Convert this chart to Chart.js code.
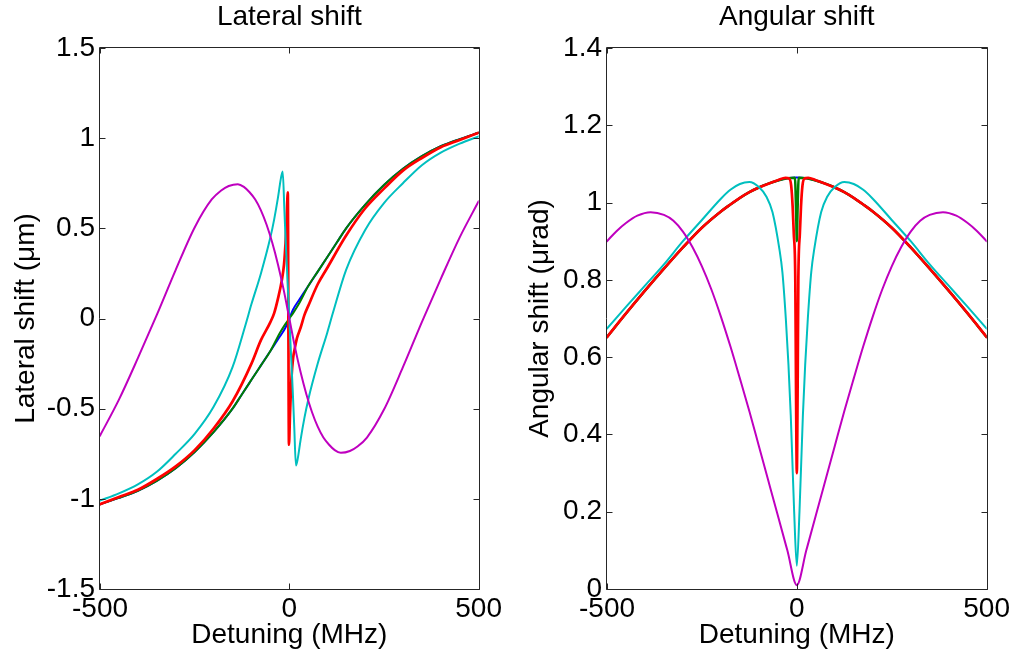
<!DOCTYPE html>
<html><head><meta charset="utf-8">
<script src="https://cdn.jsdelivr.net/npm/chart.js@4.4.1/dist/chart.umd.min.js"></script>
<style>
html,body{margin:0;padding:0;background:#fff;}
#wrap{position:relative;width:1016px;height:657px;overflow:hidden;background:#fff;}
canvas{position:absolute;top:0;}
#c1{left:0;} #c2{left:508px;}
</style></head><body>
<div id="wrap"><canvas id="c1" width="508" height="657"></canvas><canvas id="c2" width="508" height="657"></canvas></div>
<script>
// ---------- tick labels ----------
const xTicks = [-500, 0, 500];
const latYTicks = [-1.5, -1, -0.5, 0, 0.5, 1, 1.5];
const angYTicks = [0, 0.2, 0.4, 0.6, 0.8, 1, 1.2, 1.4];

// ---------- Lateral shift (left panel) ----------
const latBlueX = [-500,-450,-400,-350,-300,-250,-200,-150,-125,-100,-75,-50,-25,-10,0,10,25,50,75,100,125,150,200,250,300,350,400,450,500];
const latBlueY = [-1.03,-0.995,-0.955,-0.90,-0.83,-0.74,-0.63,-0.50,-0.42,-0.34,-0.26,-0.18,-0.10,-0.05,0,0.05,0.10,0.18,0.26,0.34,0.42,0.50,0.63,0.74,0.83,0.90,0.955,0.995,1.03];

const latGreenX = [-500,-450,-400,-350,-300,-250,-200,-150,-125,-100,-75,-50,-25,-10,0,10,25,50,75,100,125,150,200,250,300,350,400,450,500];
const latGreenY = [-1.03,-0.995,-0.955,-0.90,-0.83,-0.74,-0.63,-0.50,-0.42,-0.34,-0.26,-0.18,-0.08,-0.03,0,0.03,0.08,0.18,0.26,0.34,0.42,0.50,0.63,0.74,0.83,0.90,0.955,0.995,1.03];

const latRedX = [-500,-450,-400,-350,-300,-250,-200,-150,-100,-75,-50,-40,-30,-20,-14,-10,-7,-4,-1,2,6,10,14,20,30,40,50,75,100,150,200,250,300,350,400,450,500];
const latRedY = [-1.03,-0.99,-0.95,-0.89,-0.82,-0.73,-0.61,-0.46,-0.25,-0.12,-0.02,0.03,0.11,0.21,0.30,0.42,0.55,0.70,-0.70,-0.52,-0.32,-0.22,-0.17,-0.11,-0.05,0.02,0.07,0.19,0.28,0.46,0.61,0.72,0.82,0.89,0.95,0.99,1.03];

const latCyanX = [-500,-450,-400,-350,-300,-250,-200,-150,-115,-100,-75,-50,-40,-30,-22,-17.5,-13,-9,-4.5,0,4.5,9,13,17.5,22,30,40,50,75,100,115,150,200,250,300,350,400,450,500];
const latCyanY = [-1.01,-0.97,-0.92,-0.85,-0.75,-0.64,-0.49,-0.27,-0.03,0.08,0.25,0.45,0.55,0.67,0.78,0.815,0.60,0.40,0.20,0,-0.20,-0.40,-0.60,-0.815,-0.78,-0.67,-0.55,-0.45,-0.25,-0.08,0.03,0.27,0.49,0.64,0.75,0.85,0.92,0.97,1.01];

const latMagX = [-500,-450,-400,-350,-300,-250,-205,-180,-160,-136,-120,-105,-90,-75,-60,-45,-30,-15,0,15,30,45,60,75,90,105,120,136,160,180,205,250,300,350,400,450,500];
const latMagY = [-0.65,-0.45,-0.22,0.02,0.27,0.505,0.66,0.71,0.735,0.745,0.73,0.70,0.66,0.60,0.52,0.42,0.30,0.16,0,-0.16,-0.30,-0.42,-0.52,-0.60,-0.66,-0.70,-0.73,-0.745,-0.735,-0.71,-0.66,-0.505,-0.27,-0.02,0.22,0.45,0.65];

// ---------- Angular shift (right panel) ----------
const angBlueX = [-500,-450,-400,-350,-300,-250,-200,-175,-150,-125,-100,-75,-50,-25,0,25,50,75,100,125,150,175,200,250,300,350,400,450,500];
const angBlueY = [0.652,0.713,0.772,0.829,0.884,0.935,0.977,0.995,1.012,1.027,1.039,1.049,1.057,1.063,1.065,1.063,1.057,1.049,1.039,1.027,1.012,0.995,0.977,0.935,0.884,0.829,0.772,0.713,0.652];

const angGreenX = [-500,-450,-400,-350,-300,-250,-200,-175,-150,-125,-100,-75,-50,-25,-5,-2,0,2,5,25,50,75,100,125,150,175,200,250,300,350,400,450,500];
const angGreenY = [0.652,0.713,0.772,0.829,0.884,0.935,0.977,0.995,1.012,1.027,1.039,1.049,1.057,1.063,1.064,0.98,0.90,0.98,1.064,1.063,1.057,1.049,1.039,1.027,1.012,0.995,0.977,0.935,0.884,0.829,0.772,0.713,0.652];

const angRedX = [-500,-450,-400,-350,-300,-250,-200,-175,-150,-125,-100,-75,-50,-30,-20,-15,-11,-8,-4,-2,0,2,4,8,11,15,20,30,50,75,100,125,150,175,200,250,300,350,400,450,500];
const angRedY = [0.652,0.713,0.772,0.829,0.884,0.935,0.977,0.995,1.012,1.027,1.039,1.049,1.058,1.064,1.062,1.045,0.99,0.92,0.80,0.50,0.30,0.50,0.80,0.92,0.99,1.045,1.062,1.064,1.058,1.049,1.039,1.027,1.012,0.995,0.977,0.935,0.884,0.829,0.772,0.713,0.652];

const angCyanX = [-500,-450,-400,-350,-300,-250,-200,-175,-150,-125,-100,-80,-64,-46,-38,-29,-22,-16,-7,0,7,16,22,29,38,46,64,80,100,125,150,175,200,250,300,350,400,450,500];
const angCyanY = [0.674,0.73,0.785,0.84,0.90,0.955,1.01,1.033,1.048,1.053,1.04,1.015,0.975,0.88,0.82,0.70,0.58,0.45,0.20,0.06,0.20,0.45,0.58,0.70,0.82,0.88,0.975,1.015,1.04,1.053,1.048,1.033,1.01,0.955,0.90,0.84,0.785,0.73,0.674];

const angMagX = [-500,-475,-450,-420,-385,-350,-325,-300,-275,-250,-225,-200,-175,-150,-125,-100,-75,-50,-25,0,25,50,75,100,125,150,175,200,225,250,275,300,325,350,385,420,450,475,500];
const angMagY = [0.90,0.926,0.947,0.966,0.975,0.968,0.953,0.925,0.885,0.835,0.775,0.705,0.628,0.545,0.46,0.37,0.28,0.19,0.10,0.01,0.10,0.19,0.28,0.37,0.46,0.545,0.628,0.705,0.775,0.835,0.885,0.925,0.953,0.968,0.975,0.966,0.947,0.926,0.90];

// ---------- styling ----------
const FONT = "'Liberation Sans', Arial, Helvetica, sans-serif";
const FS = 28;
const AXIS_COLOR = '#262626';
const COLORS = {blue:'#0000FF', green:'#008000', red:'#FF0000', cyan:'#00BFBF', magenta:'#BF00BF'};

function pts(xs, ys){ return xs.map((x,i)=>({x:x, y:ys[i]})); }
function ds(xs, ys, color, width, order){
  return {data: pts(xs, ys), borderColor: color, borderWidth: width, pointRadius: 0,
    cubicInterpolationMode: 'monotone', borderJoinStyle: 'round', borderCapStyle: 'round', fill: false, order: order};
}

const boxTicks = {
  id: 'boxTicks',
  afterDatasetsDraw(chart){
    const {ctx, chartArea: a, scales} = chart;
    const L = 6;
    ctx.save();
    ctx.strokeStyle = AXIS_COLOR;
    ctx.lineWidth = 1;
    ctx.beginPath();
    const l = Math.round(a.left) - 0.5, r = Math.round(a.right) + 0.5;
    const t = Math.round(a.top) - 0.5, b = Math.round(a.bottom) + 0.5;
    ctx.rect(l, t, r - l, b - t);
    scales.x.ticks.forEach(tk => {
      const px = Math.round(scales.x.getPixelForValue(tk.value)) + 0.5;
      ctx.moveTo(px, b); ctx.lineTo(px, b - L);
      ctx.moveTo(px, t); ctx.lineTo(px, t + L);
    });
    scales.y.ticks.forEach(tk => {
      const py = Math.round(scales.y.getPixelForValue(tk.value)) + 0.5;
      ctx.moveTo(l, py); ctx.lineTo(l + L, py);
      ctx.moveTo(r, py); ctx.lineTo(r - L, py);
    });
    ctx.stroke();
    ctx.restore();
  }
};

function makeChart(id, cfg){
  return new Chart(document.getElementById(id), {
    type: 'line',
    data: {datasets: cfg.datasets},
    options: {
      responsive: false, animation: false, events: [],
      layout: {padding: {left: 0, right: cfg.padRight, top: 0, bottom: 0}},
      plugins: {
        legend: {display: false}, tooltip: {enabled: false},
        title: {display: true, text: cfg.title, fullSize: false, color: '#000',
          font: {family: FONT, size: FS, weight: 'normal', lineHeight: 1.2},
          padding: {top: 0.5, bottom: 13.9}}
      },
      scales: {
        x: {type: 'linear', min: -500, max: 500,
          afterBuildTicks: s => { s.ticks = xTicks.map(v => ({value: v})); },
          afterFit: s => { s.height = 68; },
          grid: {display: false, drawTicks: false}, border: {display: false},
          ticks: {color: '#000', padding: 6, maxRotation: 0, autoSkip: false,
            callback: v => String(v),
            font: {family: FONT, size: FS, lineHeight: 1}},
          title: {display: true, text: 'Detuning (MHz)', color: '#000',
            font: {family: FONT, size: FS, lineHeight: 1.2}, padding: {top: 0, bottom: 5}}
        },
        y: {type: 'linear', min: cfg.yMin, max: cfg.yMax,
          afterBuildTicks: s => { s.ticks = cfg.yTicks.map(v => ({value: v})); },
          afterFit: s => { s.width = cfg.yWidth; },
          grid: {display: false, drawTicks: false}, border: {display: false},
          ticks: {color: '#000', padding: 5, autoSkip: false,
            callback: v => String(v),
            font: {family: FONT, size: FS, lineHeight: 1}},
          title: {display: true, text: cfg.yTitle, color: '#000',
            font: {family: FONT, size: FS, lineHeight: 1.2}, padding: {top: cfg.yTitlePad, bottom: 0}}
        }
      }
    },
    plugins: [boxTicks]
  });
}

makeChart('c1', {
  title: 'Lateral shift', yTitle: 'Lateral shift (μm)', yMin: -1.5, yMax: 1.5, yTicks: latYTicks,
  yWidth: 100, padRight: 27, yTitlePad: 9,
  datasets: [
    ds(latBlueX, latBlueY, COLORS.blue, 2, 5),
    ds(latGreenX, latGreenY, COLORS.green, 2, 4),
    ds(latRedX, latRedY, COLORS.red, 2.7, 3),
    ds(latCyanX, latCyanY, COLORS.cyan, 2, 2),
    ds(latMagX, latMagY, COLORS.magenta, 2, 1)
  ]
});

makeChart('c2', {
  title: 'Angular shift', yTitle: 'Angular shift (μrad)', yMin: 0, yMax: 1.4, yTicks: angYTicks,
  yWidth: 99, padRight: 28, yTitlePad: 15,
  datasets: [
    ds(angBlueX, angBlueY, COLORS.blue, 2, 5),
    ds(angGreenX, angGreenY, COLORS.green, 2.5, 4),
    ds(angRedX, angRedY, COLORS.red, 2.7, 3),
    ds(angCyanX, angCyanY, COLORS.cyan, 2, 2),
    ds(angMagX, angMagY, COLORS.magenta, 2, 1)
  ]
});
</script></body></html>
